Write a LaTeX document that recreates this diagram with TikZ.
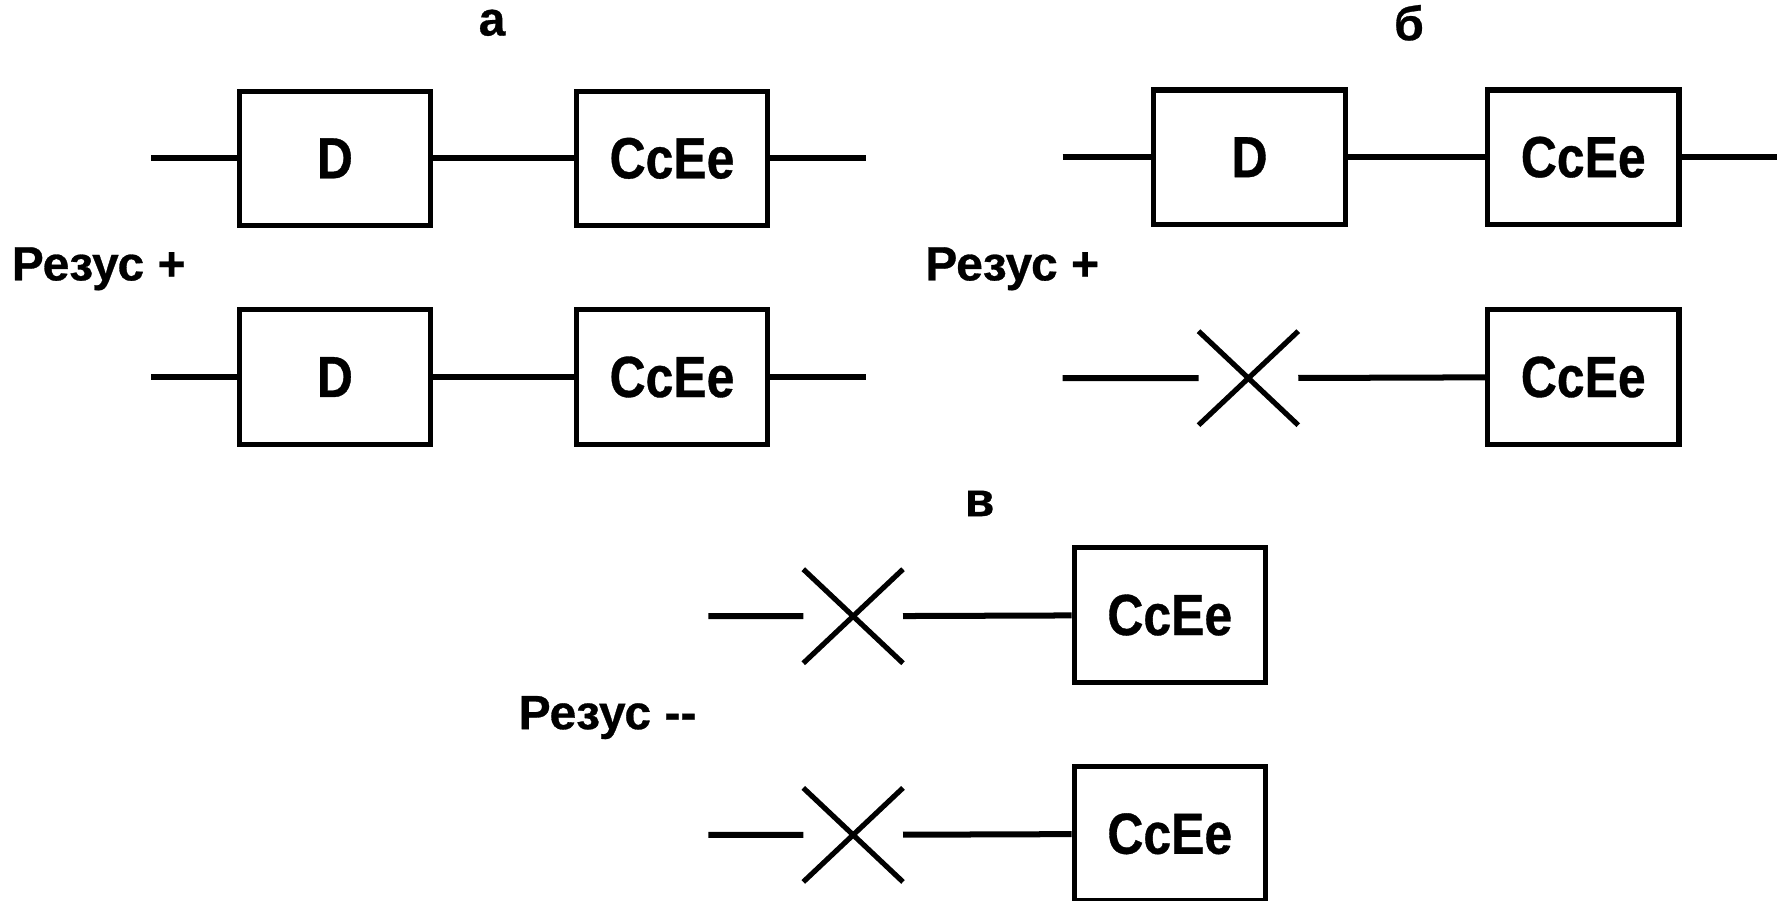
\documentclass[tikz,border=0pt]{standalone}
\usepackage{fontspec}
\setmainfont{Liberation Sans}
\newfontfamily\gfont{Liberation Sans}[FakeStretch=0.86,FakeBold=0.6]
\newfontfamily\lfont{Liberation Sans}[FakeBold=0.6]
\usetikzlibrary{shapes.misc}
\begin{document}
\begin{tikzpicture}[x=0.02cm,y=-0.02cm,
  gbox/.style={draw, line width=2.6pt, minimum width=3.36cm, minimum height=2.36cm, inner sep=0pt, font=\gfont\fontsize{29}{29}\selectfont\bfseries},
  wire/.style={line width=3pt},
  xmark/.style={cross out, draw, line width=2.6pt, minimum width=1.66cm, minimum height=1.56cm, inner sep=0pt},
  lab/.style={inner sep=0pt, font=\lfont\fontsize{24}{24}\selectfont\bfseries}]
\useasboundingbox (0,0) rectangle (1568,791);
% panel a
\node[lab] (la) at (432,20) {а};
\node[gbox] (a1D) at (294,139) {D};
\node[gbox] (a1C) at (590,139) {CcEe};
\node[gbox] (a2D) at (294,331) {D};
\node[gbox] (a2C) at (590,331) {CcEe};
\coordinate (a1L) at (133,139);
\coordinate (a1R) at (760,139);
\coordinate (a2L) at (133,331);
\coordinate (a2R) at (760,331);
\draw[wire] (a1L) -- (a1D) -- (a1C) -- (a1R);
\draw[wire] (a2L) -- (a2D) -- (a2C) -- (a2R);
\node[lab, anchor=west] (ra) at (10,236) {Резус +};
% panel b
\node[lab] (lb) at (1237,20) {б};
\node[gbox] (b1D) at (1097,138) {D};
\node[gbox] (b1C) at (1390,138) {CcEe};
\node[xmark] (b2X) at (1096,332) {};
\node[gbox] (b2C) at (1390,331) {CcEe};
\coordinate (b1L) at (933,138);
\coordinate (b1R) at (1560,138);
\coordinate (b2L) at (933,332);
\draw[wire] (b1L) -- (b1D) -- (b1C) -- (b1R);
\draw[wire] (b2L) -- (b2X) -- (b2C);
\node[lab, anchor=west] (rb) at (812,236) {Резус +};
% panel c
\node[lab] (lc) at (860,442) {в};
\node[xmark] (c1X) at (749,541) {};
\node[gbox] (c1C) at (1027,540) {CcEe};
\node[xmark] (c2X) at (749,733) {};
\node[gbox] (c2C) at (1027,732) {CcEe};
\coordinate (c1L) at (622,541);
\coordinate (c2L) at (622,733);
\draw[wire] (c1L) -- (c1X) -- (c1C);
\draw[wire] (c2L) -- (c2X) -- (c2C);
\node[lab, anchor=west] (rc) at (455,630) {Резус -{}-};
\end{tikzpicture}
\end{document}
